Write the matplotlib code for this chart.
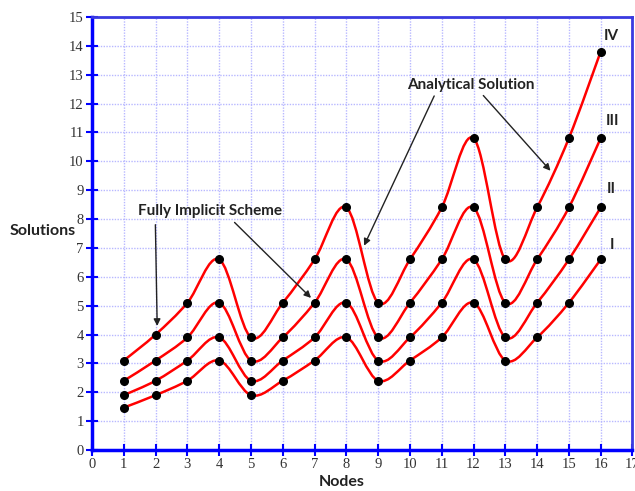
import numpy as np
import matplotlib
matplotlib.use("Agg")
import matplotlib.pyplot as plt
from matplotlib.path import Path
from matplotlib.patches import PathPatch

nodes = list(range(1, 17))
curve_I   = [1.47, 1.9, 2.4, 3.1, 1.9, 2.4, 3.1, 3.9, 2.4, 3.1, 3.9, 5.1, 3.1, 3.9, 5.1, 6.6]
curve_II  = [1.9, 2.4, 3.1, 3.9, 2.4, 3.1, 3.9, 5.1, 3.1, 3.9, 5.1, 6.6, 3.9, 5.1, 6.6, 8.4]
curve_III = [2.4, 3.1, 3.9, 5.1, 3.1, 3.9, 5.1, 6.6, 3.9, 5.1, 6.6, 8.4, 5.1, 6.6, 8.4, 10.8]
curve_IV  = [3.1, 4.0, 5.1, 6.6, 3.9, 5.1, 6.6, 8.4, 5.1, 6.6, 8.4, 10.8, 6.6, 8.4, 10.8, 13.8]
series = [curve_I, curve_II, curve_III, curve_IV]
series_labels = ["I", "II", "III", "IV"]
xticks = list(range(0, 18))
yticks = list(range(0, 16))


def smooth_path(xs, ys):
    xs = np.asarray(xs, float)
    ys = np.asarray(ys, float)
    n = len(xs)
    verts = [(xs[0], ys[0])]
    codes = [Path.MOVETO]
    for i in range(n - 1):
        p0 = np.array([xs[max(i - 1, 0)], ys[max(i - 1, 0)]])
        p1 = np.array([xs[i], ys[i]])
        p2 = np.array([xs[i + 1], ys[i + 1]])
        p3 = np.array([xs[min(i + 2, n - 1)], ys[min(i + 2, n - 1)]])
        c1 = p1 + (p2 - p0) / 6.0
        c2 = p2 - (p3 - p1) / 6.0
        verts += [tuple(c1), tuple(c2), tuple(p2)]
        codes += [Path.CURVE4] * 3
    return Path(verts, codes)


fig = plt.figure(figsize=(6.35, 4.91), dpi=100)
ax = fig.add_axes([0.145, 0.0835, 0.851, 0.882])
ax.set_xlim(0, 17)
ax.set_ylim(0, 15)

ax.set_xticks(xticks)
ax.set_yticks(yticks)
ax.grid(True, color="#b8b8ff", linestyle=(0, (1, 1)), linewidth=1.0)
ax.set_axisbelow(True)

for s in series:
    patch = PathPatch(smooth_path(nodes, s), facecolor="none", edgecolor="#ff0000",
                      linewidth=1.8, zorder=3)
    ax.add_patch(patch)
    ax.plot(nodes, s, linestyle="none", marker="o", markersize=5.5,
            color="black", zorder=4)

for side in ["left", "bottom"]:
    ax.spines[side].set_color("#0000ff")
    ax.spines[side].set_linewidth(2.5)
for side in ["top", "right"]:
    ax.spines[side].set_color("#3a3ae0")
    ax.spines[side].set_linewidth(2.0)

ax.tick_params(axis="both", direction="inout", length=8, width=1.5, color="#0000ff",
               labelsize=10.5, labelcolor="#333333", pad=2)
for lab in ax.get_xticklabels() + ax.get_yticklabels():
    lab.set_family("Liberation Serif")

ax.set_xlabel("Nodes", fontsize=11.5, fontweight="bold", family="Lato",
              color="#222222", va="center")
ax.xaxis.set_label_coords(7.85 / 17, -0.075)
ax.set_ylabel("Solutions", fontsize=11.5, fontweight="bold", family="Lato",
              rotation=0, ha="right", va="center", color="#222222")
ax.yaxis.set_label_coords(-0.03, 0.505)

lab_pos = {"I": (16.3, 7.1), "II": (16.2, 9.05), "III": (16.15, 11.4), "IV": (16.1, 14.35)}
for name in series_labels:
    x, y = lab_pos[name]
    ax.text(x, y, name, fontsize=11, fontweight="bold", family="Lato",
            ha="left", va="center", color="#222222")

txt_kw = dict(fontsize=11, fontweight="bold", family="Lato", color="#222222",
              ha="center", va="center")
ax.text(3.7, 8.27, "Fully Implicit Scheme", **txt_kw)
ax.text(11.9, 12.65, "Analytical Solution", **txt_kw)

arr = dict(arrowstyle="-|>", color="#222222", lw=1.0, mutation_scale=10)
ax.annotate("", xy=(2.05, 4.2), xytext=(1.99, 7.9), arrowprops=arr)
ax.annotate("", xy=(6.95, 5.2), xytext=(4.42, 7.95), arrowprops=arr)
ax.annotate("", xy=(8.52, 6.99), xytext=(10.8, 12.35), arrowprops=arr)
ax.annotate("", xy=(14.48, 9.6), xytext=(12.25, 12.35), arrowprops=arr)

fig.savefig("out.png", dpi=100)
